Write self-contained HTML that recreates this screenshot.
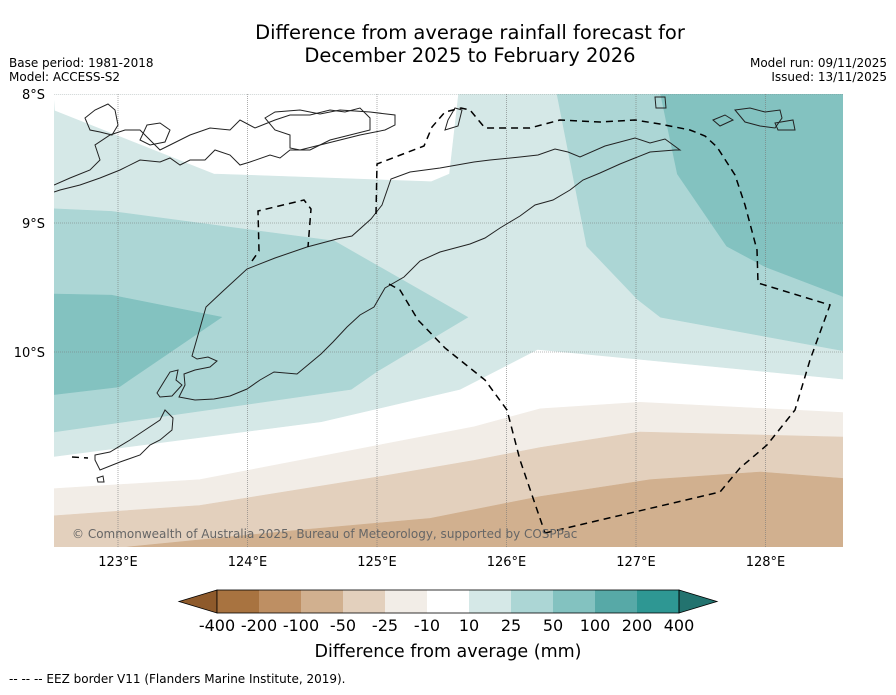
<!DOCTYPE html>
<html><head><meta charset="utf-8"><style>
body{margin:0;background:#fff;font-family:"Liberation Sans","DejaVu Sans",sans-serif}
svg text{font-family:"DejaVu Sans","Liberation Sans",sans-serif}
</style></head><body>
<svg id="chart" width="896" height="690" viewBox="0 0 896 690" xmlns="http://www.w3.org/2000/svg">
<rect width="896" height="690" fill="#fff"/>
<text x="470" y="39" font-size="19.5" text-anchor="middle">Difference from average rainfall forecast for</text>
<text x="470" y="62" font-size="19.5" text-anchor="middle">December 2025 to February 2026</text>
<text x="9" y="67" font-size="12">Base period: 1981-2018</text>
<text x="9" y="81" font-size="12">Model: ACCESS-S2</text>
<text x="887" y="67" font-size="12" text-anchor="end">Model run: 09/11/2025</text>
<text x="887" y="81" font-size="12" text-anchor="end">Issued: 13/11/2025</text>
<defs><clipPath id="mapclip"><rect x="54" y="94" width="789" height="453"/></clipPath></defs>
<g id="map" clip-path="url(#mapclip)">
<rect x="54" y="94" width="789" height="453" fill="#fff"/>
<g id="contours"></g>
<g id="grid"></g>
<g fill="none" stroke="#222" stroke-width="1">
<path d="M192,356 L206,307 L222,292 L247,269 L275,258 L307,247 L337,239 L352,236 L371,219 L382,205 L391,179 L410,172 L440,168 L474,162 L490,160 L520,157 L538,155 L555,149 L568,152 L580,157 L605,146 L635,138 L650,143 L665,139 L680,150 L675,150 L650,152 L620,164 L600,173 L583,180 L570,190 L553,200 L535,205 L520,216 L500,228 L485,238 L470,244 L455,248 L440,252 L420,261 L404,277 L385,288 L374,307 L360,315 L347,327 L333,342 L321,354 L297,374 L274,372 L260,380 L247,389 L230,396 L214,399 L195,400 L179,397 L185,385 L184,374 L195,370 L210,367 L217,361 L208,357 L197,359 Z"/>
<path d="M157,393 L165,380 L170,372 L178,370 L176,380 L182,385 L172,396 L160,397 Z"/>
<path d="M95,455 L110,452 L130,440 L145,430 L160,420 L165,410 L173,418 L172,430 L160,440 L150,445 L140,455 L120,462 L100,470 L95,460 Z"/>
<path d="M97,478 L103,476 L104,482 L98,482 Z"/>
<path d="M54,185 L70,178 L90,170 L100,160 L95,145 L110,135 L125,130 L140,130 L150,140 L160,150 L170,145 L190,135 L210,128 L230,130 L240,120 L255,128 L275,120 L290,115 L310,115 L330,110 L345,112 L360,108 L370,118 L370,130 L350,135 L330,140 L310,150 L290,150 L280,158 L270,155 L250,162 L240,165 L230,155 L215,150 L205,160 L190,160 L180,165 L170,158 L160,162 L140,160 L120,170 L100,178 L80,185 L60,190 L54,192"/>
<path d="M85,118 L95,110 L108,104 L115,110 L118,125 L112,135 L100,132 L90,130 Z M147,125 L160,123 L170,130 L165,142 L150,145 L140,140 Z M265,118 L275,112 L300,110 L320,114 L340,110 L370,112 L395,115 L395,125 L385,130 L360,135 L340,140 L320,145 L300,150 L290,148 L290,135 L275,130 Z M448,120 L455,108 L462,110 L458,126 L445,130 Z"/>
<path d="M655,97 L665,97 L666,108 L656,108 Z M713,120 L725,115 L733,120 L720,126 Z M735,110 L750,108 L765,112 L780,110 L782,118 L775,128 L760,126 L745,122 Z M775,123 L793,120 L795,130 L778,130 Z"/>
</g>
<g fill="none" stroke="#000" stroke-width="1.5" stroke-dasharray="7,5">
<path d="M252,261 L259,251 L258,211 L304,200 L311,209 L308,247"/>
<path d="M376,214 L377,164 L424,146 L432,127 L445,112 L461,108 L470,110 L485,128 L530,128 L560,120 L600,122 L635,120 L660,124 L690,130 L705,136 L717,147 L735,175 L745,205 L757,250 L758,283 L830,305 L810,360 L795,410 L767,445 L740,468 L720,492 L545,533"/>
<path d="M389,284 L400,290 L418,320 L445,348 L485,380 L507,410 L520,460 L545,533"/>
<path d="M72,457 L88,458"/>
</g>
<text x="72" y="538" font-size="12" fill="#666">© Commonwealth of Australia 2025, Bureau of Meteorology, supported by COSPPac</text>
</g>
<g id="axes"></g>
<g id="colorbar"></g>
<text x="448" y="657" font-size="17.5" text-anchor="middle">Difference from average (mm)</text>
<text x="9" y="683" font-size="12">--  --  -- EEZ border V11 (Flanders Marine Institute, 2019).</text>
</svg>
<script>
// contour bins (index into colors)
const binEdges = [-400,-200,-100,-50,-25,-10,10,25,50,100,200,400];
const binColors = ['#a87340','#be8f63','#d1b08f','#e3d0bd','#f2ede7','#ffffff','#d5e8e7','#acd6d5','#83c2c0','#57a9a7','#2e9793'];
const overColor = '#23736f', underColor = '#8e5a2b';
// contour polygons in [lon, lat(°S)]
const polyBins = [6, 5, 7, 8, 7, 8, 4, 3, 2];
const polyNames = ['band-10-25','top-below-10','left-25-50','left-50-100','right-25-50','right-50-100','band-neg25-neg10','band-neg50-neg25','band-neg100-neg50'];
const polyTeal = [[122.5,8],[128.6,8],[128.6,10.21],[126.24,9.98],[125.64,10.29],[124.57,10.54],[122.5,10.81]];
const polyTopWhite = [[122.5,8],[125.63,8],[125.56,8.62],[125.42,8.68],[123.74,8.62],[122.51,8.13]];
const polyLeft25 = [[122.5,8.89],[122.95,8.91],[124.67,9.14],[125.70,9.73],[125.0,10.15],[124.80,10.29],[122.5,10.62]];
const polyLeft50 = [[122.5,9.55],[122.95,9.56],[123.80,9.73],[123.01,10.27],[122.5,10.33]];
const polyRight25 = [[126.39,8],[126.47,8.41],[126.62,9.18],[127.01,9.59],[127.19,9.73],[128.6,9.99],[128.6,8]];
const polyRight50 = [[127.19,8],[127.32,8.62],[127.70,9.18],[128.0,9.34],[128.6,9.57],[128.6,8]];
const polyNeg10 = [[122.5,11.06],[123.63,10.99],[125.75,10.58],[126.26,10.44],[127.03,10.39],[128.6,10.47],[128.6,11.52],[122.5,11.52]];
const polyNeg25 = [[122.5,11.27],[123.63,11.19],[125.0,10.97],[125.75,10.84],[126.26,10.74],[127.03,10.62],[128.6,10.66],[128.6,11.52],[122.5,11.52]];
const polyNeg50 = [[122.5,11.6],[123.09,11.51],[124.41,11.38],[125.41,11.29],[126.26,11.12],[127.11,10.99],[127.96,10.93],[128.6,10.98],[128.6,11.52],[122.5,11.6]];
const polys = [polyTeal, polyTopWhite, polyLeft25, polyLeft50, polyRight25, polyRight50, polyNeg10, polyNeg25, polyNeg50];
const lonTicks = [123,124,125,126,127,128];
const latTicks = [8,9,10];
const NS='http://www.w3.org/2000/svg';
function xS(lon){return 118+(lon-123)*129.5;}
function yS(lat){return 94+(lat-8)*129;}
function mk(tag,attrs,parent){const e=document.createElementNS(NS,tag);for(const k in attrs)e.setAttribute(k,attrs[k]);parent.appendChild(e);return e;}
const gC=document.getElementById('contours');
polys.forEach((p,i)=>{
  const el=mk('polygon',{points:p.map(q=>xS(q[0]).toFixed(1)+','+yS(q[1]).toFixed(1)).join(' '),fill:binColors[polyBins[i]],stroke:binColors[polyBins[i]==5?6:polyBins[i]],'stroke-width':0.6},gC);
  
  
});
const gG=document.getElementById('grid');
lonTicks.forEach(l=>{
  const el=mk('line',{x1:xS(l),x2:xS(l),y1:94,y2:547,stroke:'#777','stroke-width':0.6,'stroke-dasharray':'1,1'},gG);
  
  
});
latTicks.forEach(l=>{
  const el=mk('line',{x1:54,x2:843,y1:yS(l),y2:yS(l),stroke:'#777','stroke-width':0.6,'stroke-dasharray':'1,1'},gG);
  
  
});
const gA=document.getElementById('axes');
lonTicks.forEach(l=>{
  const t=mk('text',{x:xS(l),y:566,'font-size':13,'text-anchor':'middle'},gA);t.textContent=l+'°E';
  
  
});
latTicks.forEach(l=>{
  const t=mk('text',{x:45,y:yS(l)+5,'font-size':13,'text-anchor':'end'},gA);t.textContent=l+'°S';
  
  
});
// colorbar
const gB=document.getElementById('colorbar');
const cbX0=217, cbW=42, cbY=590, cbH=23;
const tl=mk('polygon',{points:`${cbX0},${cbY} ${cbX0-38},${cbY+cbH/2} ${cbX0},${cbY+cbH}`,fill:underColor,stroke:'#000','stroke-width':0.8},gB);


binColors.forEach((c,i)=>{
  const r=mk('rect',{x:cbX0+i*cbW,y:cbY,width:cbW,height:cbH,fill:c},gB);
  
  
});
const xe=cbX0+binColors.length*cbW;
const tr=mk('polygon',{points:`${xe},${cbY} ${xe+38},${cbY+cbH/2} ${xe},${cbY+cbH}`,fill:overColor,stroke:'#000','stroke-width':0.8},gB);


const ob=mk('rect',{x:cbX0,y:cbY,width:xe-cbX0,height:cbH,fill:'none',stroke:'#000','stroke-width':0.8},gB);


binEdges.forEach((v,i)=>{
  const t=mk('text',{x:cbX0+i*cbW,y:631,'font-size':16,'text-anchor':'middle'},gB);t.textContent=v;
  
  
});
</script>
</body></html>
